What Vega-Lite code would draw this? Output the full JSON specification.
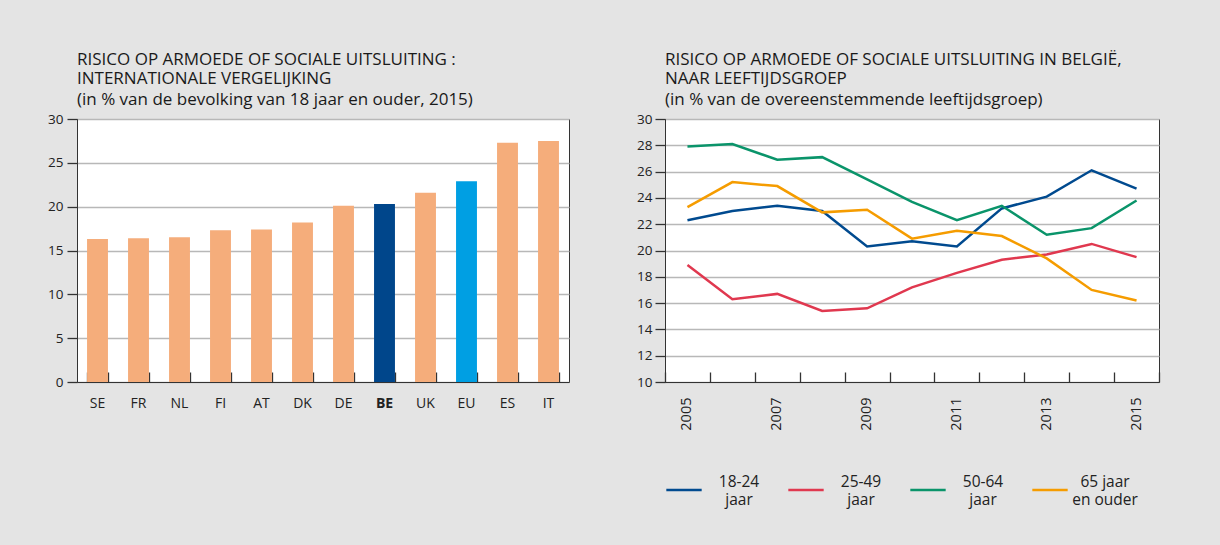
{
  "$schema": "https://vega.github.io/schema/vega-lite/v6.json",
  "background": "#e4e4e4",
  "padding": {"left": 47, "top": 50, "right": 60, "bottom": 40},
  "resolve": {"scale": {"color": "independent"}, "legend": {"color": "independent"}},
  "config": {
    "font": "Open Sans",
    "view": {"stroke": "#333333", "strokeWidth": 1, "fill": "white"},
    "axis": {
      "labelFont": "Open Sans",
      "labelFontSize": 13.5,
      "labelColor": "#222222",
      "domainColor": "#333333",
      "domainWidth": 1,
      "tickColor": "#333333",
      "tickWidth": 1.3,
      "gridColor": "#b8b8b8",
      "gridWidth": 1.5
    },
    "title": {
      "font": "Open Sans",
      "fontSize": 17,
      "fontWeight": "normal",
      "color": "#1a1a1a",
      "lineHeight": 19,
      "subtitleFont": "Open Sans",
      "subtitleFontSize": 17,
      "subtitleColor": "#1a1a1a",
      "subtitlePadding": 4,
      "anchor": "start",
      "frame": "group",
      "offset": 3
    },
    "concat": {"spacing": 66}
  },
  "hconcat": [
    {
      "width": 492,
      "height": 263,
      "title": {
        "text": ["RISICO OP ARMOEDE OF SOCIALE UITSLUITING :", "INTERNATIONALE VERGELIJKING"],
        "subtitle": "(in % van de bevolking van 18 jaar en ouder, 2015)"
      },
      "data": {
        "values": [
          {"country": "SE", "value": 16.3, "type": "other"},
          {"country": "FR", "value": 16.4, "type": "other"},
          {"country": "NL", "value": 16.5, "type": "other"},
          {"country": "FI", "value": 17.3, "type": "other"},
          {"country": "AT", "value": 17.4, "type": "other"},
          {"country": "DK", "value": 18.2, "type": "other"},
          {"country": "DE", "value": 20.1, "type": "other"},
          {"country": "BE", "value": 20.3, "type": "BE"},
          {"country": "UK", "value": 21.6, "type": "other"},
          {"country": "EU", "value": 22.9, "type": "EU"},
          {"country": "ES", "value": 27.3, "type": "other"},
          {"country": "IT", "value": 27.5, "type": "other"}
        ]
      },
      "resolve": {"axis": {"x": "independent"}},
      "layer": [
        {
          "mark": {"type": "bar"},
          "encoding": {
            "x": {
              "field": "country",
              "type": "nominal",
              "sort": null,
              "scale": {"paddingInner": 0.49, "paddingOuter": 0.245},
              "axis": {
                "title": null,
                "labelAngle": 0,
                "labelFontSize": 14,
                "ticks": false,
                "tickSize": 0,
                "labelPadding": 14,
                "labelFontWeight": {"condition": {"test": "datum.value == 'BE'", "value": "bold"}, "value": "normal"}
              }
            },
            "y": {
              "field": "value",
              "type": "quantitative",
              "scale": {"domain": [0, 30]},
              "axis": {"title": null, "values": [0, 5, 10, 15, 20, 25, 30], "tickSize": 10, "labelPadding": 4}
            },
            "color": {
              "field": "type",
              "type": "nominal",
              "scale": {"domain": ["other", "BE", "EU"], "range": ["#f5ad7b", "#00468b", "#009fe3"]},
              "legend": null
            }
          }
        },
        {
          "mark": {"type": "bar", "opacity": 0},
          "encoding": {
            "x": {
              "field": "country",
              "type": "nominal",
              "sort": null,
              "axis": {
                "orient": "top",
                "offset": -263,
                "title": null,
                "labels": false,
                "domain": false,
                "grid": false,
                "ticks": true,
                "tickBand": "extent",
                "tickSize": 10
              }
            }
          }
        }
      ]
    },
    {
      "width": 494,
      "height": 263,
      "title": {
        "text": ["RISICO OP ARMOEDE OF SOCIALE UITSLUITING IN BELGIË,", "NAAR LEEFTIJDSGROEP"],
        "subtitle": "(in % van de overeenstemmende leeftijdsgroep)"
      },
      "data": {
        "values": [
          {"year": 2005, "group": "18-24 jaar", "value": 22.3},
          {"year": 2006, "group": "18-24 jaar", "value": 23.0},
          {"year": 2007, "group": "18-24 jaar", "value": 23.4},
          {"year": 2008, "group": "18-24 jaar", "value": 23.0},
          {"year": 2009, "group": "18-24 jaar", "value": 20.3},
          {"year": 2010, "group": "18-24 jaar", "value": 20.7},
          {"year": 2011, "group": "18-24 jaar", "value": 20.3},
          {"year": 2012, "group": "18-24 jaar", "value": 23.2},
          {"year": 2013, "group": "18-24 jaar", "value": 24.1},
          {"year": 2014, "group": "18-24 jaar", "value": 26.1},
          {"year": 2015, "group": "18-24 jaar", "value": 24.7},
          {"year": 2005, "group": "25-49 jaar", "value": 18.9},
          {"year": 2006, "group": "25-49 jaar", "value": 16.3},
          {"year": 2007, "group": "25-49 jaar", "value": 16.7},
          {"year": 2008, "group": "25-49 jaar", "value": 15.4},
          {"year": 2009, "group": "25-49 jaar", "value": 15.6},
          {"year": 2010, "group": "25-49 jaar", "value": 17.2},
          {"year": 2011, "group": "25-49 jaar", "value": 18.3},
          {"year": 2012, "group": "25-49 jaar", "value": 19.3},
          {"year": 2013, "group": "25-49 jaar", "value": 19.7},
          {"year": 2014, "group": "25-49 jaar", "value": 20.5},
          {"year": 2015, "group": "25-49 jaar", "value": 19.5},
          {"year": 2005, "group": "50-64 jaar", "value": 27.9},
          {"year": 2006, "group": "50-64 jaar", "value": 28.1},
          {"year": 2007, "group": "50-64 jaar", "value": 26.9},
          {"year": 2008, "group": "50-64 jaar", "value": 27.1},
          {"year": 2009, "group": "50-64 jaar", "value": 25.4},
          {"year": 2010, "group": "50-64 jaar", "value": 23.7},
          {"year": 2011, "group": "50-64 jaar", "value": 22.3},
          {"year": 2012, "group": "50-64 jaar", "value": 23.4},
          {"year": 2013, "group": "50-64 jaar", "value": 21.2},
          {"year": 2014, "group": "50-64 jaar", "value": 21.7},
          {"year": 2015, "group": "50-64 jaar", "value": 23.8},
          {"year": 2005, "group": "65 jaar en ouder", "value": 23.3},
          {"year": 2006, "group": "65 jaar en ouder", "value": 25.2},
          {"year": 2007, "group": "65 jaar en ouder", "value": 24.9},
          {"year": 2008, "group": "65 jaar en ouder", "value": 22.9},
          {"year": 2009, "group": "65 jaar en ouder", "value": 23.1},
          {"year": 2010, "group": "65 jaar en ouder", "value": 20.9},
          {"year": 2011, "group": "65 jaar en ouder", "value": 21.5},
          {"year": 2012, "group": "65 jaar en ouder", "value": 21.1},
          {"year": 2013, "group": "65 jaar en ouder", "value": 19.4},
          {"year": 2014, "group": "65 jaar en ouder", "value": 17.0},
          {"year": 2015, "group": "65 jaar en ouder", "value": 16.2}
        ]
      },
      "resolve": {"axis": {"x": "independent"}},
      "layer": [
        {
          "mark": {"type": "line", "strokeWidth": 2.5},
          "encoding": {
            "x": {
              "field": "year",
              "type": "ordinal",
              "bandPosition": 0.5,
              "scale": {"type": "band", "paddingInner": 0, "paddingOuter": 0},
              "axis": {
                "title": null,
                "labelAngle": -90,
                "labelFontSize": 14.5,
                "ticks": false,
                "tickSize": 0,
                "labelPadding": 15,
                "labelExpr": "datum.value % 2 == 1 ? datum.label : ''"
              }
            },
            "y": {
              "field": "value",
              "type": "quantitative",
              "scale": {"domain": [10, 30]},
              "axis": {"title": null, "values": [10, 12, 14, 16, 18, 20, 22, 24, 26, 28, 30], "tickSize": 10, "labelPadding": 3}
            },
            "color": {
              "field": "group",
              "type": "nominal",
              "sort": null,
              "scale": {
                "domain": ["18-24 jaar", "25-49 jaar", "50-64 jaar", "65 jaar en ouder"],
                "range": ["#004a8f", "#e0384f", "#0a946a", "#f59c00"]
              },
              "legend": {
                "title": null,
                "orient": "bottom",
                "direction": "horizontal",
                "columns": 4,
                "symbolType": "stroke",
                "symbolSize": 1250,
                "symbolStrokeWidth": 2.5,
                "labelFont": "Open Sans",
                "labelFontSize": 15.5,
                "labelColor": "#222222",
                "labelAlign": "center",
                "labelBaseline": "bottom",
                "labelOffset": 36,
                "labelLimit": 300,
                "columnPadding": 23,
                "offset": 40,
                "labelExpr": "datum.label == '65 jaar en ouder' ? ['65 jaar', 'en ouder'] : split(datum.label, ' ')"
              }
            }
          }
        },
        {
          "mark": {"type": "line", "opacity": 0},
          "encoding": {
            "x": {
              "field": "year",
              "type": "ordinal",
              "bandPosition": 0.5,
              "axis": {
                "orient": "top",
                "offset": -263,
                "title": null,
                "labels": false,
                "domain": false,
                "grid": false,
                "ticks": true,
                "tickBand": "extent",
                "tickSize": 10
              }
            }
          }
        }
      ]
    }
  ]
}
